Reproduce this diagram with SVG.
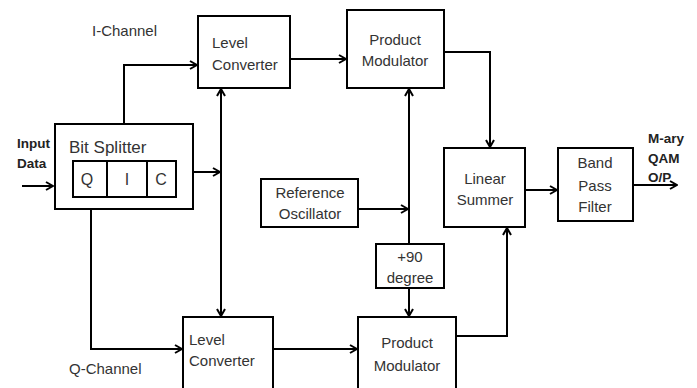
<svg xmlns="http://www.w3.org/2000/svg" width="697" height="388" viewBox="0 0 697 388">
<defs>
<marker id="arr" viewBox="0 0 10 10" refX="9" refY="5" markerWidth="10" markerHeight="10" markerUnits="userSpaceOnUse" orient="auto-start-reverse">
<path d="M2,1 L9,5 L2,9" fill="none" stroke="#000" stroke-width="2"/>
</marker>
<style>
.box{fill:#fff;stroke:#000;stroke-width:2}
.ln{fill:none;stroke:#000;stroke-width:2}
.t{font-family:"Liberation Sans",Arial,sans-serif;font-size:15px;fill:#333}
.m{text-anchor:middle}
.b{font-weight:bold;font-size:13.5px;fill:#222}
</style>
</defs>
<rect width="697" height="388" fill="#fff"/>
<g id="connectors">
<path class="ln" d="M22,186 H53" marker-end="url(#arr)"/>
<path class="ln" d="M124,124 V65 H197" marker-end="url(#arr)"/>
<path class="ln" d="M91,209 V349 H182" marker-end="url(#arr)"/>
<path class="ln" d="M176,172 H220" marker-end="url(#arr)"/>
<path class="ln" d="M221,89 V316" marker-start="url(#arr)" marker-end="url(#arr)"/>
<path class="ln" d="M290,59 H346" marker-end="url(#arr)"/>
<path class="ln" d="M444,52 H490 V147" marker-end="url(#arr)"/>
<path class="ln" d="M358,209 H408" marker-end="url(#arr)"/>
<path class="ln" d="M409,244 V89" marker-end="url(#arr)"/>
<path class="ln" d="M409,288 V316" marker-end="url(#arr)"/>
<path class="ln" d="M273,349 H357" marker-end="url(#arr)"/>
<path class="ln" d="M456,336 H507 V228" marker-end="url(#arr)"/>
<path class="ln" d="M525,190 H557" marker-end="url(#arr)"/>
<path class="ln" d="M633,185 H677" marker-end="url(#arr)"/>
</g>
<g id="labels">
<text class="t" x="92" y="36">I-Channel</text>
<text class="t" x="69" y="374">Q-Channel</text>
<text class="t b" x="17" y="148">Input</text>
<text class="t b" x="17" y="168">Data</text>
<text class="t b" x="648" y="143">M-ary</text>
<text class="t b" x="648" y="163">QAM</text>
<text class="t b" x="648" y="182">O/P</text>
</g>
<g id="bit-splitter">
<rect class="box" x="55" y="124" width="138" height="85"/>
<text class="t" x="69" y="153" style="font-size:17px">Bit Splitter</text>
<rect class="box" x="73" y="161" width="103" height="36"/>
<line class="ln" x1="107" y1="161" x2="107" y2="197"/>
<line class="ln" x1="147" y1="161" x2="147" y2="197"/>
<text class="t m" x="87" y="185" style="font-size:16px">Q</text>
<text class="t m" x="127" y="185" style="font-size:16px">I</text>
<text class="t m" x="161" y="185" style="font-size:16px">C</text>
</g>
<g id="level-converter-i">
<rect class="box" x="198" y="16" width="92" height="72"/>
<text class="t" x="212" y="48">Level</text>
<text class="t" x="212" y="70">Converter</text>
</g>
<g id="product-modulator-i">
<rect class="box" x="347" y="10" width="97" height="78"/>
<text class="t m" x="395" y="45">Product</text>
<text class="t m" x="395" y="66">Modulator</text>
</g>
<g id="reference-oscillator">
<rect class="box" x="261" y="179" width="97" height="48"/>
<text class="t m" x="310" y="198">Reference</text>
<text class="t m" x="310" y="219">Oscillator</text>
</g>
<g id="phase-shift">
<rect class="box" x="376" y="244" width="68" height="44"/>
<text class="t m" x="410" y="262">+90</text>
<text class="t m" x="410" y="283">degree</text>
</g>
<g id="level-converter-q">
<rect class="box" x="183" y="317" width="90" height="80"/>
<text class="t" x="189" y="345">Level</text>
<text class="t" x="189" y="366">Converter</text>
</g>
<g id="product-modulator-q">
<rect class="box" x="358" y="317" width="98" height="80"/>
<text class="t m" x="407" y="348">Product</text>
<text class="t m" x="407" y="371">Modulator</text>
</g>
<g id="linear-summer">
<rect class="box" x="444" y="148" width="81" height="79"/>
<text class="t m" x="485" y="184">Linear</text>
<text class="t m" x="485" y="205">Summer</text>
</g>
<g id="band-pass-filter">
<rect class="box" x="558" y="148" width="75" height="73"/>
<text class="t m" x="595" y="168">Band</text>
<text class="t m" x="595" y="191">Pass</text>
<text class="t m" x="595" y="212">Filter</text>
</g>
</svg>
